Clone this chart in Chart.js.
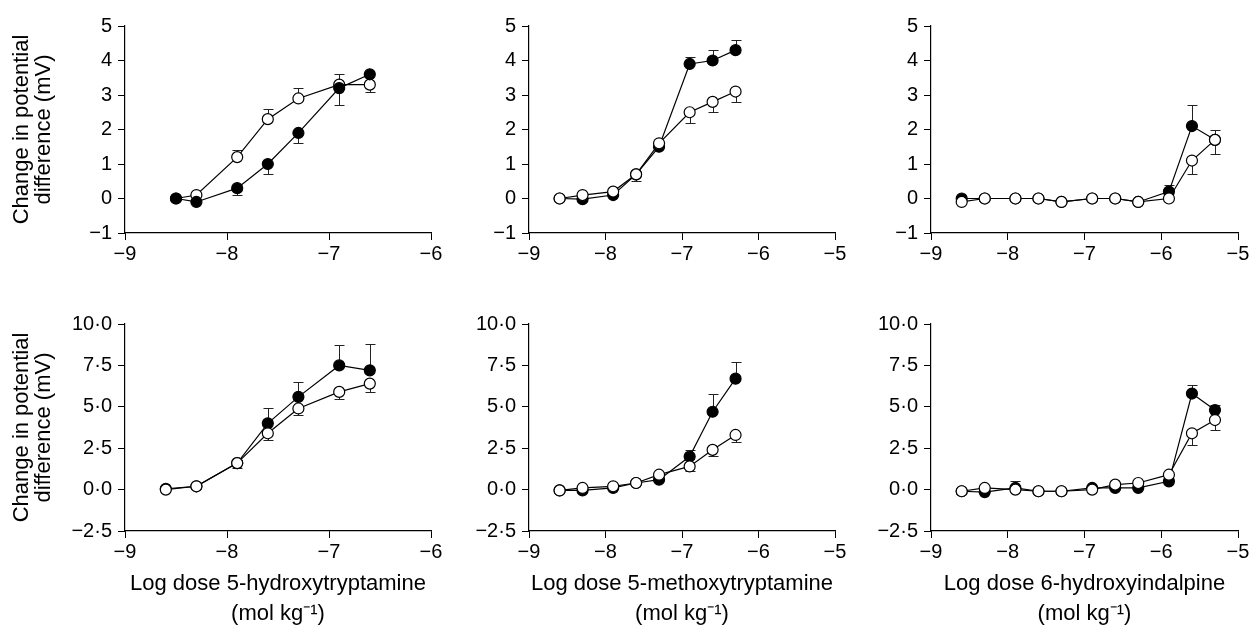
<!DOCTYPE html>
<html>
<head>
<meta charset="utf-8">
<script src="https://cdn.jsdelivr.net/npm/chart.js@4/dist/chart.umd.min.js"></script>
<style>
  html, body { margin: 0; padding: 0; background: #fff; overflow: hidden; }
  #wrap { position: relative; width: 1254px; height: 625px; }
  canvas { position: absolute; }
</style>
</head>
<body>
<div id="wrap">
  <canvas id="c1" width="470" height="300" style="left:0px;top:0px"></canvas>
  <canvas id="c2" width="400" height="300" style="left:470px;top:0px"></canvas>
  <canvas id="c3" width="384" height="300" style="left:870px;top:0px"></canvas>
  <canvas id="c4" width="470" height="330" style="left:0px;top:300px"></canvas>
  <canvas id="c5" width="400" height="330" style="left:470px;top:300px"></canvas>
  <canvas id="c6" width="384" height="330" style="left:870px;top:300px"></canvas>
</div>
<script>
// log doses (mol/kg)
var doses5HT = [-8.5, -8.3, -7.9, -7.6, -7.3, -6.9, -6.6];
var doses5HTb = [-8.6, -8.3, -7.9, -7.6, -7.3, -6.9, -6.6];
var dosesMeOT = [-8.6, -8.3, -7.9, -7.6, -7.3, -6.9, -6.6, -6.3];
var dosesIndal = [-8.6, -8.3, -7.9, -7.6, -7.3, -6.9, -6.6, -6.3, -5.9, -5.6, -5.3];

// top row (mV); errors: + drawn up, - drawn down
var filledA = [0, -0.1, 0.3, 1.0, 1.9, 3.2, 3.6];
var filledAErr = [0, 0, -0.2, -0.3, -0.3, -0.5, 0];
var openA = [0, 0.1, 1.2, 2.3, 2.9, 3.3, 3.3];
var openAErr = [0, 0, 0.2, 0.3, 0.3, 0.3, -0.2];

var filledB = [0, -0.02, 0.1, 0.7, 1.5, 3.9, 4.0, 4.3];
var filledBErr = [0, 0, 0, 0, 0, 0.2, 0.3, 0.3];
var openB = [0, 0.1, 0.2, 0.7, 1.6, 2.5, 2.8, 3.1];
var openBErr = [0, 0, 0, -0.2, 0, -0.3, -0.3, -0.3];

var filledC = [0, 0, 0, 0, -0.1, 0, 0, -0.1, 0.2, 2.1, 1.7];
var filledCErr = [0, 0, 0, 0, 0, 0, 0, 0, 0.2, 0.6, 0.3];
var openC = [-0.1, 0, 0, 0, -0.1, 0, 0, -0.1, 0, 1.1, 1.7];
var openCErr = [0, 0, 0, 0, 0, 0, 0, 0, 0, -0.4, -0.4];

// bottom row (mV)
var filledD = [0.05, 0.2, 1.6, 4.0, 5.6, 7.5, 7.2];
var filledDErr = [0, 0, 0.2, 0.9, 0.9, 1.25, 1.6];
var openD = [0, 0.2, 1.6, 3.4, 4.9, 5.9, 6.4];
var openDErr = [0, 0, -0.3, -0.4, -0.4, -0.4, -0.5];

var filledE = [-0.05, -0.05, 0.1, 0.4, 0.6, 2.0, 4.7, 6.7];
var filledEErr = [0, 0, 0, 0, 0, 0.4, 1.1, 1.0];
var openE = [-0.05, 0.1, 0.2, 0.4, 0.9, 1.4, 2.4, 3.3];
var openEErr = [0, 0, 0, 0, 0, -0.3, -0.4, -0.4];

var filledF = [-0.1, -0.15, 0.1, -0.1, -0.1, 0.1, 0.1, 0.1, 0.5, 5.8, 4.8];
var filledFErr = [0, 0, 0.4, 0, 0, 0, 0, 0, 0, 0.5, 0.3];
var openF = [-0.1, 0.1, 0, -0.1, -0.1, 0, 0.3, 0.4, 0.9, 3.4, 4.2];
var openFErr = [0, 0, 0, 0, 0, 0, 0, 0, 0, -0.7, -0.6];

var yTitle = ['Change in potential', 'difference (mV)'];
var xTitle5HT = ['Log dose 5-hydroxytryptamine', '(mol kg\u207B\u00B9)'];
var xTitleMeOT = ['Log dose 5-methoxytryptamine', '(mol kg\u207B\u00B9)'];
var xTitleIndal = ['Log dose 6-hydroxyindalpine', '(mol kg\u207B\u00B9)'];

var FONT = "'Liberation Sans', Arial, Helvetica, sans-serif";

var errorBars = {
  id: 'errorBars',
  beforeDatasetsDraw: function(chart) {
    var ctx = chart.ctx, xs = chart.scales.x, ys = chart.scales.y;
    ctx.save();
    ctx.strokeStyle = '#222';
    ctx.lineWidth = 1;
    chart.data.datasets.forEach(function(ds) {
      ds.errors.forEach(function(e, i) {
        if (!e) return;
        var p = ds.data[i];
        var px = Math.round(xs.getPixelForValue(p.x)) + 0.5;
        var y0 = ys.getPixelForValue(p.y);
        var y1 = Math.round(ys.getPixelForValue(p.y + e)) + 0.5;
        ctx.beginPath();
        ctx.moveTo(px, y0);
        ctx.lineTo(px, y1);
        ctx.moveTo(px - 5, y1);
        ctx.lineTo(px + 5, y1);
        ctx.stroke();
      });
    });
    ctx.restore();
  }
};

function pts(xs, ys) {
  return xs.map(function(x, i) { return {x: x, y: ys[i]}; });
}

function minus(s) { return s.replace('-', '\u2212'); }

function makePanel(id, doses, filled, filledErr, open, openErr, o) {
  var top = o.row === 'top';
  new Chart(document.getElementById(id), {
    type: 'scatter',
    data: {
      datasets: [
        {
          data: pts(doses, open),
          errors: openErr,
          showLine: true,
          order: o.filledOnTop ? 1 : 0,
          borderColor: '#000',
          borderWidth: 1.2,
          pointRadius: 5.5,
          pointBorderWidth: 1.2,
          pointBackgroundColor: '#fff',
          pointBorderColor: '#000'
        },
        {
          data: pts(doses, filled),
          errors: filledErr,
          showLine: true,
          order: o.filledOnTop ? 0 : 1,
          borderColor: '#000',
          borderWidth: 1.2,
          pointRadius: 5.5,
          pointBorderWidth: 1.2,
          pointBackgroundColor: '#000',
          pointBorderColor: '#000'
        }
      ]
    },
    options: {
      responsive: false,
      animation: false,
      devicePixelRatio: 1,
      layout: { padding: { top: o.padTop, right: o.padRight, left: 0, bottom: 0 } },
      plugins: { legend: { display: false }, tooltip: { enabled: false } },
      scales: {
        x: {
          type: 'linear',
          min: -9,
          max: o.xMax,
          afterFit: function(s) { s.height = o.xHeight; },
          grid: { drawOnChartArea: false, drawTicks: true, tickLength: 7, color: '#000' },
          border: { display: true, color: '#000', width: 1.2 },
          ticks: {
            stepSize: 1,
            padding: 2,
            color: '#000',
            font: { family: FONT, size: 20 },
            callback: function(v) { return minus(String(v)); }
          },
          title: {
            display: !!o.xTitle,
            text: o.xTitle || '',
            color: '#000',
            font: { family: FONT, size: 22, lineHeight: 30 / 22 },
            padding: { top: 0, bottom: 1 }
          }
        },
        y: {
          type: 'linear',
          min: top ? -1 : -2.5,
          max: top ? 5 : 10,
          afterFit: function(s) { s.width = o.yWidth; },
          grid: { drawOnChartArea: false, drawTicks: true, tickLength: 7, color: '#000' },
          border: { display: true, color: '#000', width: 1.2 },
          ticks: {
            stepSize: top ? 1 : 2.5,
            padding: 6,
            color: '#000',
            font: { family: FONT, size: 20 },
            callback: function(v) {
              return top ? minus(String(v)) : minus(v.toFixed(1)).replace('.', '\u00B7');
            }
          },
          title: {
            display: !!o.yTitle,
            text: o.yTitle || '',
            color: '#000',
            font: { family: FONT, size: 22, lineHeight: 1 },
            padding: { top: 11, bottom: 0 }
          }
        }
      }
    },
    plugins: [errorBars]
  });
}

makePanel('c1', doses5HT, filledA, filledAErr, openA, openAErr,
  { row: 'top', xMax: -6, padTop: 26, padRight: 39, xHeight: 67, yWidth: 125, yTitle: yTitle, filledOnTop: true });
makePanel('c2', dosesMeOT, filledB, filledBErr, openB, openBErr,
  { row: 'top', xMax: -5, padTop: 26, padRight: 35, xHeight: 67, yWidth: 59 });
makePanel('c3', dosesIndal, filledC, filledCErr, openC, openCErr,
  { row: 'top', xMax: -5, padTop: 26, padRight: 16, xHeight: 67, yWidth: 61 });
makePanel('c4', doses5HTb, filledD, filledDErr, openD, openDErr,
  { row: 'bottom', xMax: -6, padTop: 24, padRight: 39, xHeight: 99, yWidth: 125, yTitle: yTitle, xTitle: xTitle5HT });
makePanel('c5', dosesMeOT, filledE, filledEErr, openE, openEErr,
  { row: 'bottom', xMax: -5, padTop: 24, padRight: 35, xHeight: 99, yWidth: 59, xTitle: xTitleMeOT });
makePanel('c6', dosesIndal, filledF, filledFErr, openF, openFErr,
  { row: 'bottom', xMax: -5, padTop: 24, padRight: 16, xHeight: 99, yWidth: 61, xTitle: xTitleIndal });
</script>
</body>
</html>
